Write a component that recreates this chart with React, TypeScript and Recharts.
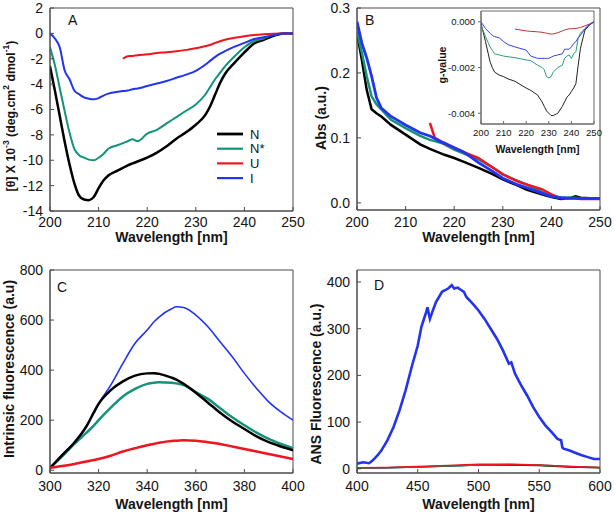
import React from 'react';
import { LineChart, Line, XAxis, YAxis, ReferenceArea, Label, Legend } from 'recharts';

const FONT = '"Liberation Sans", Arial, Helvetica, sans-serif';
const AXIS = '#4a4a4a';
const TEXT = '#141414';
const C_N = '#000000';
const C_NS = '#14937a';
const C_U = '#f0141e';
const C_I = '#2233f2';

const legendOrder = ['N', 'N*', 'U', 'I'];

// ---------- Panel A : CD spectra ----------
const aWave = [200, 201, 202, 203, 204, 205, 206, 207, 208, 209, 210, 211, 212, 214, 215, 216, 217, 218, 220, 222, 224, 226, 228, 230, 232, 233, 234, 235, 236, 238, 240, 242, 244, 246, 248, 250];
const aN = [-2.6, -4.5, -6.5, -8.5, -10.3, -11.8, -12.8, -13.1, -13.15, -12.9, -12.2, -11.6, -11.2, -10.8, -10.6, -10.4, -10.25, -10.1, -9.8, -9.4, -8.9, -8.3, -7.8, -7.2, -6.4, -5.7, -4.8, -3.9, -3.2, -2.3, -1.5, -0.8, -0.5, -0.2, 0, 0];
const aNS = [-1.1, -2.5, -4.3, -6.1, -7.8, -9.1, -9.6, -9.8, -9.95, -10.0, -9.8, -9.5, -9.1, -8.8, -8.65, -8.5, -8.35, -8.5, -7.9, -7.6, -7.1, -6.6, -6.1, -5.6, -4.8, -4.2, -3.6, -3.1, -2.6, -1.8, -1.1, -0.6, -0.4, -0.1, 0, 0];
const aU = [null, null, null, null, null, null, null, null, null, null, null, null, null, null, -2.0, -1.8, -1.78, -1.72, -1.65, -1.55, -1.48, -1.4, -1.3, -1.18, -1.0, -0.9, -0.75, -0.62, -0.5, -0.35, -0.22, -0.12, -0.06, -0.02, 0, 0];
const aI = [0, -0.4, -1.1, -2.9, -3.6, -4.5, -4.8, -5.05, -5.15, -5.2, -5.1, -4.9, -4.75, -4.6, -4.55, -4.5, -4.4, -4.35, -4.15, -3.95, -3.75, -3.5, -3.25, -2.95, -2.45, -2.15, -1.85, -1.6, -1.4, -1.05, -0.75, -0.45, -0.3, -0.15, 0, 0];

// ---------- Panel B : absorbance ----------
const bWave = [200, 201, 202, 203, 204, 205, 207, 210, 213, 215, 216, 217, 218, 220, 222, 225, 228, 230, 233, 235, 238, 240, 242, 244, 245, 246, 248, 250];
const bN = [0.262, 0.22, 0.174, 0.144, 0.138, 0.133, 0.12, 0.105, 0.09, 0.083, 0.08, 0.077, 0.074, 0.069, 0.063, 0.054, 0.044, 0.036, 0.027, 0.02, 0.013, 0.009, 0.006, 0.008, 0.01, 0.008, 0.007, 0.007];
const bNS = [0.264, 0.231, 0.195, 0.164, 0.152, 0.144, 0.128, 0.115, 0.103, 0.097, 0.095, 0.093, 0.09, 0.082, 0.076, 0.067, 0.054, 0.044, 0.034, 0.028, 0.017, 0.01, 0.008, 0.008, 0.008, 0.007, 0.007, 0.007];
const bU = [null, null, null, null, null, null, null, null, null, 0.123, 0.1, 0.096, 0.091, 0.085, 0.078, 0.069, 0.054, 0.044, 0.033, 0.028, 0.021, 0.013, 0.007, 0.007, 0.007, 0.006, 0.006, 0.006];
const bI = [0.279, 0.246, 0.223, 0.195, 0.162, 0.146, 0.133, 0.12, 0.108, 0.103, 0.099, 0.095, 0.092, 0.085, 0.078, 0.062, 0.048, 0.038, 0.028, 0.023, 0.015, 0.01, 0.008, 0.007, 0.007, 0.007, 0.007, 0.007];

// ---------- Inset : g-value ----------
const gWave = [200, 202, 204, 205, 206, 208, 210, 212, 215, 220, 222, 225, 227, 228, 229, 230, 231, 232, 234, 236, 237, 238, 239, 240, 241, 242, 243, 244, 246, 248, 250];
const gN = [-0.00007, -0.00087, -0.00175, -0.002, -0.0022, -0.00233, -0.0024, -0.0025, -0.0026, -0.0029, -0.003, -0.0032, -0.0035, -0.0037, -0.0039, -0.004, -0.0041, -0.0041, -0.004, -0.0037, -0.0035, -0.0033, -0.0032, -0.00305, -0.0029, -0.0027, -0.0019, -0.00116, -0.00036, -0.00015, 0];
const gNS = [-0.00015, -0.00065, -0.0011, -0.00125, -0.0014, -0.00145, -0.0015, -0.00153, -0.00157, -0.00167, -0.0017, -0.0019, -0.002, -0.0021, -0.0024, -0.00245, -0.0024, -0.0022, -0.002, -0.0019, -0.0016, -0.0015, -0.00145, -0.0016, -0.0014, -0.0013, -0.00073, -0.0005, -0.0003, -0.00012, 0];
const gU = [null, null, null, null, null, null, null, null, -0.00032, -0.0004, -0.00042, -0.00044, -0.00046, -0.00048, -0.0005, -0.00052, -0.00054, -0.00053, -0.00048, -0.0004, -0.00036, -0.00033, -0.00031, -0.0003, -0.0003, -0.00029, -0.00027, -0.00025, -0.00018, -0.0001, 0];
const gI = [0, -0.0003, -0.0005, -0.0006, -0.00065, -0.0007, -0.00087, -0.001, -0.0011, -0.00124, -0.0015, -0.0016, -0.0016, -0.0016, -0.0016, -0.0016, -0.00155, -0.0015, -0.00145, -0.0014, -0.0012, -0.0012, -0.0012, -0.0011, -0.00095, -0.00087, -0.0007, -0.0006, -0.0003, -0.00012, 0];

// ---------- Panel C : intrinsic fluorescence ----------
const cWave = [300, 305, 310, 315, 318, 320, 325, 330, 335, 340, 343, 345, 350, 352, 355, 360, 365, 370, 375, 380, 385, 390, 395, 400];
const cN = [9, 60, 110, 175, 230, 265, 320, 355, 378, 387, 388, 385, 370, 362, 345, 310, 270, 230, 195, 165, 135, 112, 95, 80];
const cNS = [9, 55, 105, 150, 178, 200, 250, 295, 325, 345, 350, 352, 350, 347, 340, 312, 285, 248, 212, 180, 150, 125, 105, 88];
const cU = [10, 17, 25, 35, 41, 45, 58, 75, 88, 100, 106, 110, 117, 118, 120, 118, 112, 105, 95, 85, 75, 65, 55, 45];
const cI = [9, 62, 112, 178, 232, 267, 340, 427, 507, 560, 595, 613, 645, 653, 650, 620, 573, 513, 453, 387, 327, 273, 233, 200];

// ---------- Panel D : ANS fluorescence ----------
const dWave = [400, 405, 410, 413, 417, 420, 425, 430, 435, 440, 445, 450, 453, 457, 458, 460, 462, 465, 470, 475, 478, 480, 483, 485, 488, 490, 495, 500, 505, 510, 515, 520, 525, 527, 530, 535, 540, 545, 550, 555, 560, 565, 568, 569, 570, 575, 580, 585, 590, 595, 600];
const dI = [11, 14, 12, 18, 29, 39, 61, 89, 125, 168, 218, 264, 304, 336, 346, 321, 336, 357, 379, 386, 393, 386, 388, 384, 379, 368, 354, 339, 321, 300, 279, 254, 225, 228, 204, 179, 157, 132, 111, 93, 79, 64, 61, 46, 43, 39, 34, 29, 25, 21, 21];
const dLowWave = [400, 425, 450, 475, 500, 525, 550, 575, 600];
const dN = [1, 2, 4, 6, 8, 8, 7, 4, 2];
const dNS = [1, 2, 4, 6, 8, 9, 8, 5, 3];
const dU = [2, 3, 5, 7, 10, 10, 8, 5, 3];

type Pt = { x: number; y: number };
const pts = (xs: number[], ys: (number | null)[]): Pt[] =>
  xs.map((x, i) => ({ x, y: ys[i] as number })).filter((p) => p.y !== null && p.y !== undefined);

interface Series { name: string; color: string; width: number; data: Pt[] }

interface PanelProps {
  left: number; top: number; width: number; height: number;
  plotLeft: number; plotRight: number; plotTop: number; plotBottom: number;
  xDomain: [number, number]; yDomain: [number, number];
  xTicks: number[]; yTicks: number[];
  yFmt?: (v: number) => string;
  series: Series[];
  curve: 'monotone' | 'linear';
  tickFont: number; xTickMargin: number; yTickMargin: number;
  xTickSize: number; yTickSize: number;
  xTitle: string; xTitleBase: number; xTitleFont: number;
  yTitle: React.ReactNode; yTitleX: number; yTitleY: number; yTitleFont: number;
  letter?: string; letterX?: number; letterY?: number;
  legend?: boolean;
  frameColor?: string;
}

const LegendBox = (props: any) => {
  const payload = [...(props.payload || [])].sort(
    (a: any, b: any) => legendOrder.indexOf(a.value) - legendOrder.indexOf(b.value)
  );
  return (
    <svg width={60} height={62} style={{ display: 'block' }}>
      {payload.map((e: any, i: number) => {
        const y = 7 + i * 14.7;
        const w = e.value === 'N' ? 2.8 : 2.2;
        return (
          <g key={i}>
            <line x1={2} x2={28} y1={y} y2={y} stroke={e.color} strokeWidth={w} />
            <text x={35} y={y + 4.5} fontSize={13} fontFamily={FONT} fill={TEXT}>{e.value}</text>
          </g>
        );
      })}
    </svg>
  );
};

function Panel(p: PanelProps) {
  const cx = (p.plotLeft + p.plotRight) / 2;
  const tickStyle = { fill: TEXT, fontSize: p.tickFont, fontFamily: FONT };
  const frame = p.frameColor || AXIS;
  return (
    <div style={{ position: 'absolute', left: p.left, top: p.top, width: p.width, height: p.height }}>
      <LineChart
        width={p.width}
        height={p.height}
        margin={{ top: p.plotTop, right: p.width - p.plotRight, left: 0, bottom: 0 }}
      >
        <XAxis
          type="number"
          dataKey="x"
          domain={p.xDomain}
          ticks={p.xTicks}
          interval={0}
          allowDataOverflow
          height={p.height - p.plotBottom}
          tickSize={p.xTickSize}
          tickMargin={p.xTickMargin}
          stroke={frame}
          tick={tickStyle}
        >
          <Label
            content={() => (
              <text x={cx} y={p.xTitleBase} textAnchor="middle" fontSize={p.xTitleFont} fontWeight="bold" fontFamily={FONT} fill={TEXT}>
                {p.xTitle}
              </text>
            )}
          />
        </XAxis>
        <YAxis
          type="number"
          domain={p.yDomain}
          ticks={p.yTicks}
          interval={0}
          allowDataOverflow
          width={p.plotLeft}
          tickSize={p.yTickSize}
          tickMargin={p.yTickMargin}
          tickFormatter={p.yFmt}
          stroke={frame}
          tick={tickStyle}
        >
          <Label
            content={() => (
              <text
                x={p.yTitleX}
                y={p.yTitleY}
                transform={`rotate(-90 ${p.yTitleX} ${p.yTitleY})`}
                textAnchor="middle"
                dominantBaseline="central"
                fontSize={p.yTitleFont}
                fontWeight="bold"
                fontFamily={FONT}
                fill={TEXT}
              >
                {p.yTitle}
              </text>
            )}
          />
        </YAxis>
        <ReferenceArea
          x1={p.xDomain[0]}
          x2={p.xDomain[1]}
          y1={p.yDomain[0]}
          y2={p.yDomain[1]}
          fill="none"
          fillOpacity={0}
          stroke={frame}
          strokeWidth={1}
          ifOverflow="visible"
        />
        {p.series.map((s) => (
          <Line
            key={s.name}
            name={s.name}
            data={s.data}
            dataKey="y"
            type={p.curve}
            stroke={s.color}
            strokeWidth={s.width}
            dot={false}
            activeDot={false}
            isAnimationActive={false}
          />
        ))}
        {p.legend && (
          <Legend
            layout="vertical"
            align="center"
            verticalAlign="middle"
            wrapperStyle={{ position: 'absolute', left: 215, top: 127, width: 60, height: 62 }}
            content={<LegendBox />}
          />
        )}
        {p.letter && (
          <text x={p.letterX} y={p.letterY} fontSize={14} fontFamily={FONT} fill={TEXT}>{p.letter}</text>
        )}
      </LineChart>
    </div>
  );
}

export default function App() {
  const aSeries: Series[] = [
    { name: 'N', color: C_N, width: 2.5, data: pts(aWave, aN) },
    { name: 'N*', color: C_NS, width: 2, data: pts(aWave, aNS) },
    { name: 'U', color: C_U, width: 2, data: pts(aWave, aU) },
    { name: 'I', color: C_I, width: 2, data: pts(aWave, aI) },
  ];
  const bSeries: Series[] = [
    { name: 'N', color: C_N, width: 2.5, data: pts(bWave, bN) },
    { name: 'N*', color: C_NS, width: 2.5, data: pts(bWave, bNS) },
    { name: 'U', color: C_U, width: 2.5, data: pts(bWave, bU) },
    { name: 'I', color: C_I, width: 2.8, data: pts(bWave, bI) },
  ];
  const gSeries: Series[] = [
    { name: 'N', color: '#222222', width: 1, data: pts(gWave, gN) },
    { name: 'N*', color: '#2a9d80', width: 1, data: pts(gWave, gNS) },
    { name: 'U', color: '#c0303f', width: 1, data: pts(gWave, gU) },
    { name: 'I', color: '#3344ee', width: 1, data: pts(gWave, gI) },
  ];
  const cSeries: Series[] = [
    { name: 'I', color: C_I, width: 1.6, data: pts(cWave, cI) },
    { name: 'N*', color: C_NS, width: 2.5, data: pts(cWave, cNS) },
    { name: 'N', color: C_N, width: 2.5, data: pts(cWave, cN) },
    { name: 'U', color: C_U, width: 2.5, data: pts(cWave, cU) },
  ];
  const dSeries: Series[] = [
    { name: 'N', color: C_N, width: 1.5, data: pts(dLowWave, dN) },
    { name: 'N*', color: C_NS, width: 1.5, data: pts(dLowWave, dNS) },
    { name: 'U', color: C_U, width: 1.5, data: pts(dLowWave, dU) },
    { name: 'I', color: C_I, width: 2.6, data: pts(dWave, dI) },
  ];

  const common = {
    width: 307, height: 257, plotLeft: 50, plotRight: 293,
    tickFont: 14, yTickMargin: 11, xTickSize: -4, yTickSize: -4,
    xTitle: 'Wavelength [nm]', xTitleFont: 14, yTitleFont: 14,
  };

  return (
    <div style={{ position: 'absolute', left: 0, top: 0, width: 614, height: 514, background: '#ffffff', overflow: 'hidden' }}>
      <Panel
        {...common}
        left={0} top={0} plotTop={8} plotBottom={211}
        xDomain={[200, 250]} yDomain={[-14, 2]}
        xTicks={[200, 210, 220, 230, 240, 250]}
        yTicks={[-14, -12, -10, -8, -6, -4, -2, 0, 2]}
        series={aSeries} curve="monotone"
        xTickMargin={10} xTitleBase={242}
        yTitleFont={12.3}
        yTitle={
          <>
            <tspan>[θ] X 10</tspan>
            <tspan dy={-5} fontSize={8.5}>-3</tspan>
            <tspan dy={5}> (deg.cm</tspan>
            <tspan dy={-5} fontSize={8.5}>2</tspan>
            <tspan dy={5}> dmol</tspan>
            <tspan dy={-5} fontSize={8.5}>-1</tspan>
            <tspan dy={5}>)</tspan>
          </>
        }
        yTitleX={11} yTitleY={116}
        letter="A" letterX={68} letterY={25}
        legend
      />
      <Panel
        {...common}
        left={307} top={0} plotTop={8} plotBottom={210}
        xDomain={[200, 250]} yDomain={[-0.011, 0.3]}
        xTicks={[200, 210, 220, 230, 240, 250]}
        yTicks={[0, 0.1, 0.2, 0.3]}
        yFmt={(v) => v.toFixed(1)}
        series={bSeries} curve="linear"
        xTickMargin={11} xTitleBase={242}
        yTitle="Abs (a.u.)" yTitleX={14} yTitleY={118}
        letter="B" letterX={58} letterY={25}
      />
      <Panel
        left={430} top={0} width={180} height={160}
        plotLeft={51} plotRight={164} plotTop={11} plotBottom={124}
        xDomain={[200, 250]} yDomain={[-0.00447, 0.00047]}
        xTicks={[200, 210, 220, 230, 240, 250]}
        yTicks={[-0.004, -0.002, 0]}
        yFmt={(v) => v.toFixed(3)}
        series={gSeries} curve="linear"
        tickFont={9.5} xTickMargin={8} yTickMargin={3} xTickSize={-3} yTickSize={3}
        xTitle="Wavelength [nm]" xTitleBase={153} xTitleFont={10.5}
        yTitle="g-value" yTitleX={12} yTitleY={65} yTitleFont={10.5}
        frameColor="#6a6a6a"
      />
      <Panel
        {...common}
        left={0} top={257} plotTop={13} plotBottom={216}
        xDomain={[300, 400]} yDomain={[-11, 800]}
        xTicks={[300, 320, 340, 360, 380, 400]}
        yTicks={[0, 200, 400, 600, 800]}
        series={cSeries} curve="monotone"
        xTickMargin={12} xTitleBase={252}
        yTitle="Intrinsic fluorescence (a.u)" yTitleX={9} yTitleY={112}
        letter="C" letterX={57} letterY={35}
      />
      <Panel
        {...common}
        left={307} top={257} plotTop={13} plotBottom={216}
        xDomain={[400, 600]} yDomain={[-9, 425.7]}
        xTicks={[400, 450, 500, 550, 600]}
        yTicks={[0, 100, 200, 300, 400]}
        series={dSeries} curve="linear"
        xTickMargin={12} xTitleBase={252}
        yTitle="ANS Fluorescence (a.u.)" yTitleX={9} yTitleY={127}
        letter="D" letterX={67} letterY={33}
      />
    </div>
  );
}
